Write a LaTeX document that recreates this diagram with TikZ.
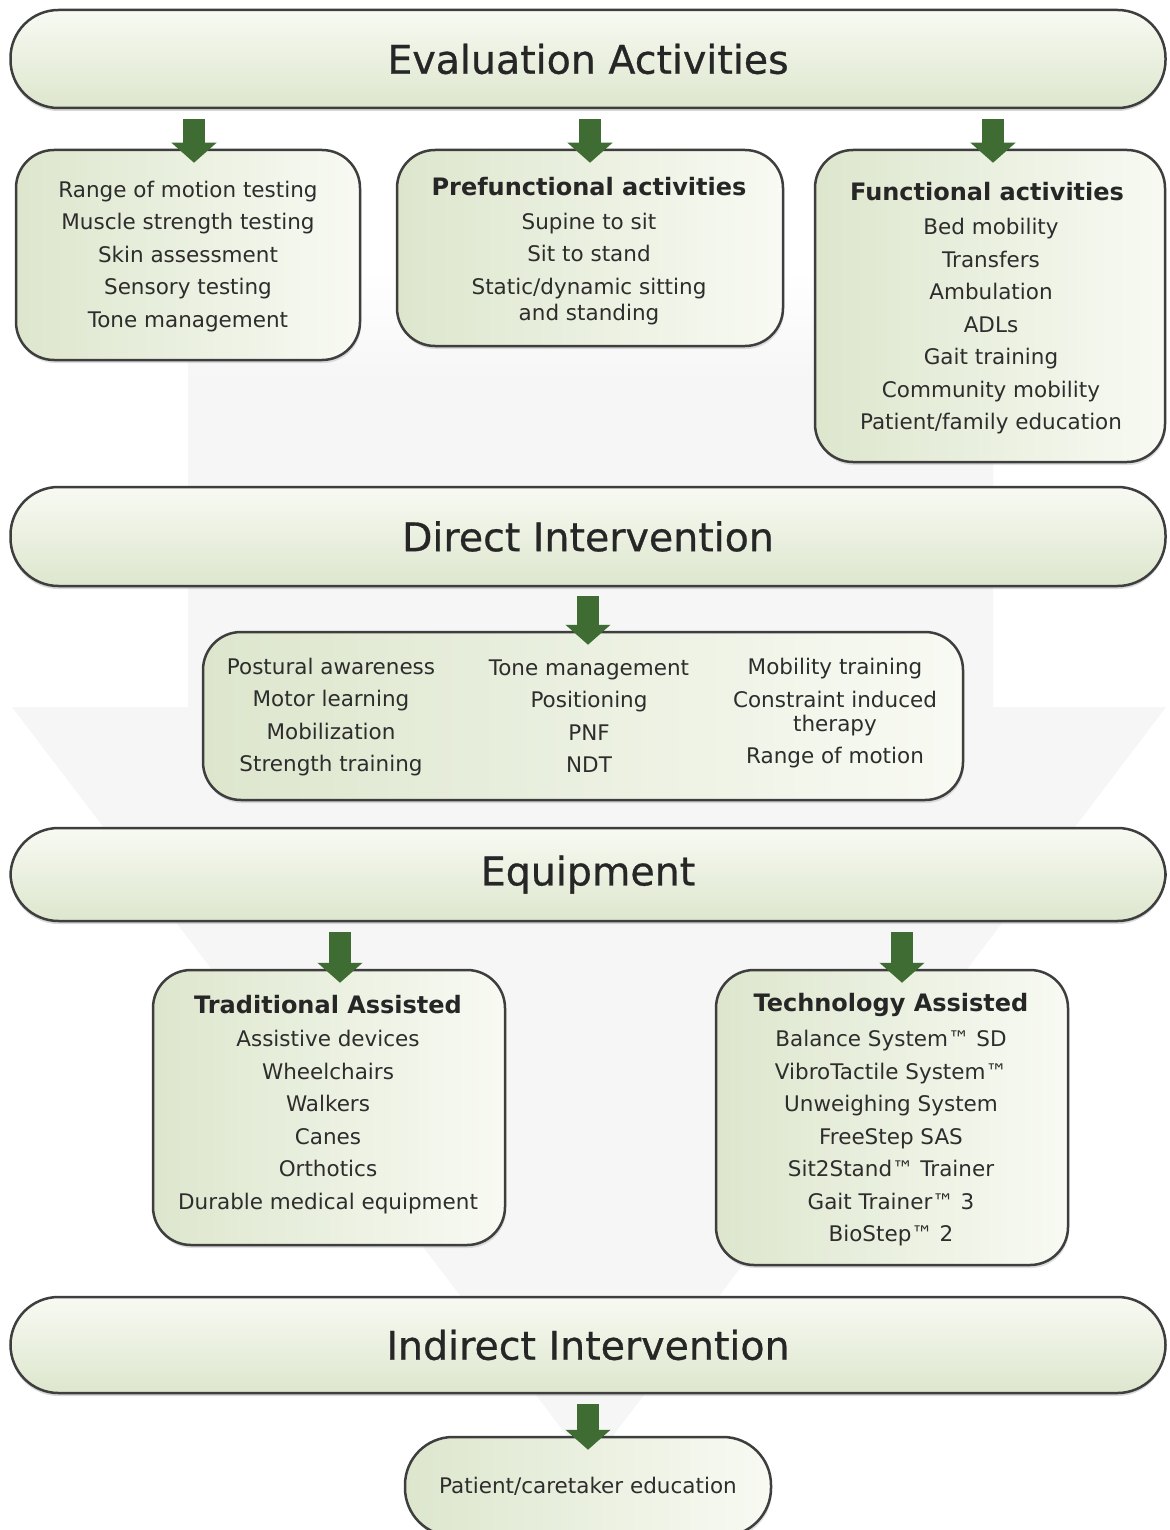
\documentclass[tikz,border=0pt]{standalone}
\usepackage{fontspec}
\setmainfont{DejaVu Sans}
\newfontfamily\bannerfont{DejaVu Sans}[FakeBold=0.7]
\usetikzlibrary{arrows.meta,shadows}
\definecolor{boxlight}{RGB}{248,250,243}
\definecolor{boxgreen}{RGB}{221,230,205}
\definecolor{arrowgreen}{RGB}{62,108,50}
\definecolor{edgegray}{RGB}{62,62,62}
\definecolor{bggray}{RGB}{246,246,246}
\definecolor{txtgray}{RGB}{45,45,45}
\begin{document}
\begin{tikzpicture}[x=1pt,y=-1pt]
\tikzstyle{banner}=[draw=edgegray,line width=2.5pt,rounded corners=48pt,top color=boxlight,bottom color=boxgreen,minimum width=1155pt,font=\bannerfont\fontsize{39.5}{40}\selectfont,text=black!85,drop shadow={opacity=0.3,shadow xshift=0pt,shadow yshift=-3pt}]
\tikzstyle{card}=[draw=edgegray,line width=2.5pt,rounded corners=38pt,left color=boxgreen,right color=boxlight,inner sep=0pt,drop shadow={opacity=0.25,shadow xshift=1pt,shadow yshift=-3pt}]
\tikzstyle{items}=[align=center,font=\fontsize{21.5}{32.5}\selectfont,text=txtgray]
\tikzstyle{head}=[font=\bfseries\fontsize{24}{28}\selectfont,text=black!85]
\tikzstyle{flow}=[arrowgreen,line width=22pt,-{Triangle[width=44pt,length=20pt]}]
\useasboundingbox (0,0) rectangle (1169,1530);
\fill[white] (0,0) rectangle (1169,1530);
\fill[bggray] (188,380) -- (993,380) -- (993,707) -- (1166,707) -- (590,1466) -- (12,707) -- (188,707) -- cycle;
\shade[top color=white,bottom color=bggray] (188,270) rectangle (993,381);

\node[banner,minimum height=98pt] (eval) at (588,59) {Evaluation Activities};
\node[card,minimum width=344pt,minimum height=210pt] (tests) at (188,255) {};
\node[card,minimum width=386pt,minimum height=196pt] (prefun) at (590,248) {};
\node[card,minimum width=350pt,minimum height=312pt] (fun) at (990,306) {};
\node[items] (teststxt) at (188,256.5) {Range of motion testing\\Muscle strength testing\\Skin assessment\\Sensory testing\\Tone management};
\node[head] (prefunhead) at (589,187) {Prefunctional activities};
\node[items] (prefuntxt) at (589,269) {Supine to sit\\Sit to stand\\Static/dynamic sitting\\[-6.5pt]and standing};
\node[head] (funhead) at (987,192) {Functional activities};
\node[items] (funtxt) at (991,326.5) {Bed mobility\\Transfers\\Ambulation\\ADLs\\Gait training\\Community mobility\\Patient/family education};
\draw[flow] ([xshift=6pt,yshift=-10pt]eval.south -| tests.north) -- ([xshift=6pt,yshift=-14pt]tests.north);
\draw[flow] ([yshift=-10pt]eval.south -| prefun.north) -- ([yshift=-14pt]prefun.north);
\draw[flow] ([xshift=3pt,yshift=-10pt]eval.south -| fun.north) -- ([xshift=3pt,yshift=-14pt]fun.north);

\node[banner,minimum height=99pt] (direct) at (588,536.5) {Direct Intervention};
\node[card,minimum width=760pt,minimum height=168pt] (methods) at (583,716) {};
\node[items] (methods1) at (331,717) {Postural awareness\\Motor learning\\Mobilization\\Strength training};
\node[items] (methods2) at (589,716) {Tone management\\Positioning\\PNF\\NDT};
\node[items] (methods3) at (835,713.5) {Mobility training\\Constraint induced\\[-8.5pt]therapy\\Range of motion};
\draw[flow] ([yshift=-9pt]direct.south) -- ([yshift=-14pt]direct.south |- methods.north);

\node[banner,minimum height=93pt] (equip) at (588,874.5) {Equipment};
\node[card,minimum width=352pt,minimum height=275pt] (trad) at (329,1107.5) {};
\node[card,minimum width=352pt,minimum height=295pt] (tech) at (892,1117.5) {};
\node[head] (tradhead) at (328,1005) {Traditional Assisted};
\node[items] (tradtxt) at (328,1122) {Assistive devices\\Wheelchairs\\Walkers\\Canes\\Orthotics\\Durable medical equipment};
\node[head] (techhead) at (891,1005) {Technology Assisted};
\node[items] (techtxt) at (891,1138.5) {Balance System™ SD\\VibroTactile System™\\Unweighing System\\FreeStep SAS\\Sit2Stand™ Trainer\\Gait Trainer™ 3\\BioStep™ 2};
\draw[flow] ([xshift=11pt,yshift=-10pt]equip.south -| trad.north) -- ([xshift=11pt,yshift=-14pt]trad.north);
\draw[flow] ([xshift=10pt,yshift=-10pt]equip.south -| tech.north) -- ([xshift=10pt,yshift=-14pt]tech.north);

\node[banner,minimum height=96pt] (indirect) at (588,1345) {Indirect Intervention};
\node[card,items,rounded corners=48pt,minimum width=366pt,minimum height=99pt] (care) at (588,1486.5) {Patient/caretaker education};
\draw[flow] ([yshift=-10pt]indirect.south) -- ([yshift=-14pt]care.north);
\end{tikzpicture}
\end{document}
